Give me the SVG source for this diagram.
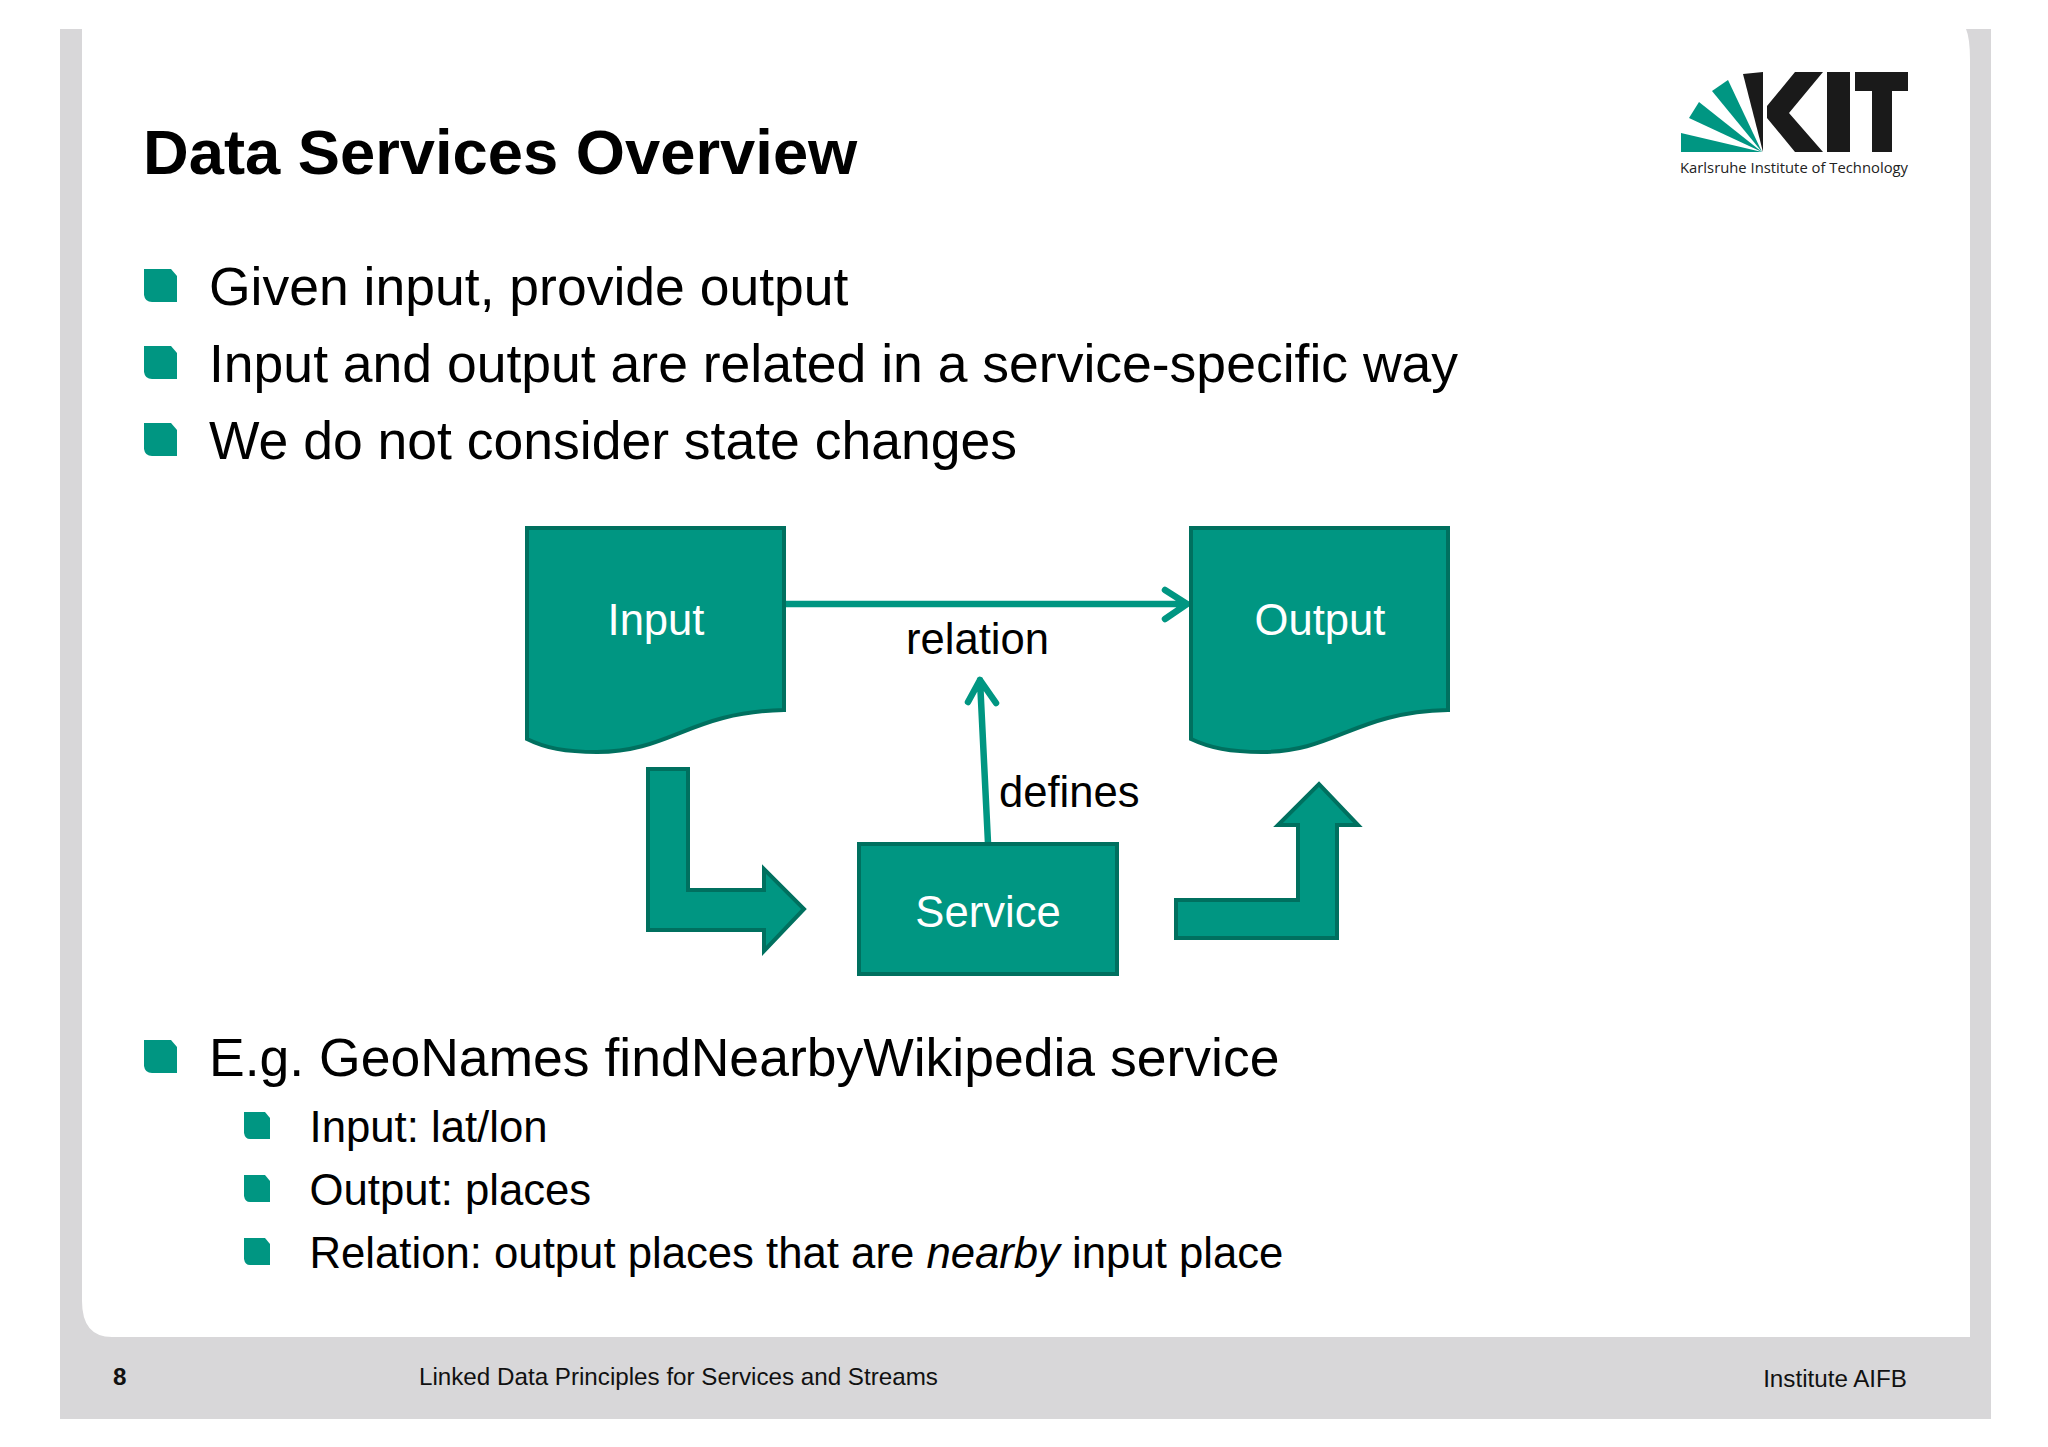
<svg xmlns="http://www.w3.org/2000/svg" width="2048" height="1447" viewBox="0 0 2048 1447">
<style>
text{font-family:"Liberation Sans",Arial,sans-serif;fill:#000}
.h1{font-size:63.3px;font-weight:700}
.l1{font-size:53.5px}
.l2{font-size:43.7px}
.d{font-size:43.6px}
.w{fill:#fff;text-anchor:middle}
.f{font-size:24.2px;fill:#111}
.shape{fill:#009682;stroke:#00705f;stroke-width:4;stroke-linejoin:miter}
.gl{fill:#009682}
.bk{fill:#1a1a1a}
.conn{fill:none;stroke:#009682;stroke-width:6.5;stroke-linecap:round;stroke-linejoin:round}
</style>
<defs>
<path id="bul" class="gl" d="M0 0H27L33 7V33H8Q1 33 0 26Z"/>
<path id="bul2" class="gl" d="M0 0H21L26 6V27H6Q1 27 0 21Z"/>
</defs>
<rect width="2048" height="1447" fill="#fff"/>
<g id="frame">
<path fill="#d8d7d9" d="M60 29H82V1301Q82 1337 112 1337H1970V60Q1970 38 1966 29H1991V1419H60Z"/>
</g>
<g id="logo">
<polygon class="gl" points="1681,133 1681,152 1762,152"/>
<polygon class="gl" points="1699,102 1689,118 1762,152"/>
<polygon class="gl" points="1728,80 1712,91 1762,152"/>
<polygon class="bk" points="1743,74 1763,72 1763,152"/>
<polygon class="bk" points="1767,106 1795,72 1823,72 1789,113 1823,152 1795,152 1767,118"/>
<rect class="bk" x="1827" y="72" width="23" height="80"/>
<polygon class="bk" points="1855,72 1908,72 1908,91 1892,91 1892,152 1872,152 1872,91 1855,91"/>
<text x="1680" y="173" font-size="15" textLength="228" lengthAdjust="spacingAndGlyphs" style="font-family:'Open Sans','Noto Sans',sans-serif;fill:#222">Karlsruhe Institute of Technology</text>
</g>
<g id="title"><text class="h1" x="143" y="174">Data Services Overview</text></g>
<g id="bullets">
<use href="#bul" x="144" y="269"/><text class="l1" x="209" y="305">Given input, provide output</text>
<use href="#bul" x="144" y="346"/><text class="l1" x="209" y="382">Input and output are related in a service-specific way</text>
<use href="#bul" x="144" y="423"/><text class="l1" x="209" y="459">We do not consider state changes</text>
<use href="#bul" x="144" y="1040"/><text class="l1" x="209" y="1076">E.g. GeoNames findNearbyWikipedia service</text>
<use href="#bul2" x="244" y="1112"/><text class="l2" x="309.500" y="1142">Input: lat/lon</text>
<use href="#bul2" x="244" y="1175"/><text class="l2" x="309.500" y="1205">Output: places</text>
<use href="#bul2" x="244" y="1238"/><text class="l2" x="309.500" y="1268">Relation: output places that are <tspan font-style="italic">nearby</tspan> input place</text>
</g>
<g id="connectors">
<path class="shape" d="M648 769H688V890H764V869L804 909L764 951V930H648Z"/>
<path class="shape" d="M1176 900H1298V825H1278L1319 784L1358 825H1337V938H1176Z"/>
<path class="conn" d="M786 604H1187M1165 590L1187 604L1165 619"/>
<path class="conn" d="M988 843L980 680M968 702L980 680L996 703"/>
</g>
<g id="input">
<path class="shape" d="M527 528H784V710C690 712 670 752 597 752C565 752 545 748 527 739Z"/>
<text class="d w" x="656" y="635">Input</text>
</g>
<g id="output">
<path class="shape" d="M1191 528H1448V710C1355 712 1335 752 1262 752C1230 752 1210 748 1191 739Z"/>
<text class="d w" x="1320" y="635">Output</text>
</g>
<g id="service">
<rect class="shape" x="859" y="844" width="258" height="130"/>
<text class="d w" x="988" y="927">Service</text>
</g>
<g id="labels">
<text class="d" x="906" y="654">relation</text>
<text class="d" x="999" y="807">defines</text>
</g>
<g id="footer">
<text class="f" x="113" y="1385" font-weight="700">8</text>
<text class="f" x="419" y="1385">Linked Data Principles for Services and Streams</text>
<text class="f" x="1907" y="1387" text-anchor="end">Institute AIFB</text>
</g>
</svg>
